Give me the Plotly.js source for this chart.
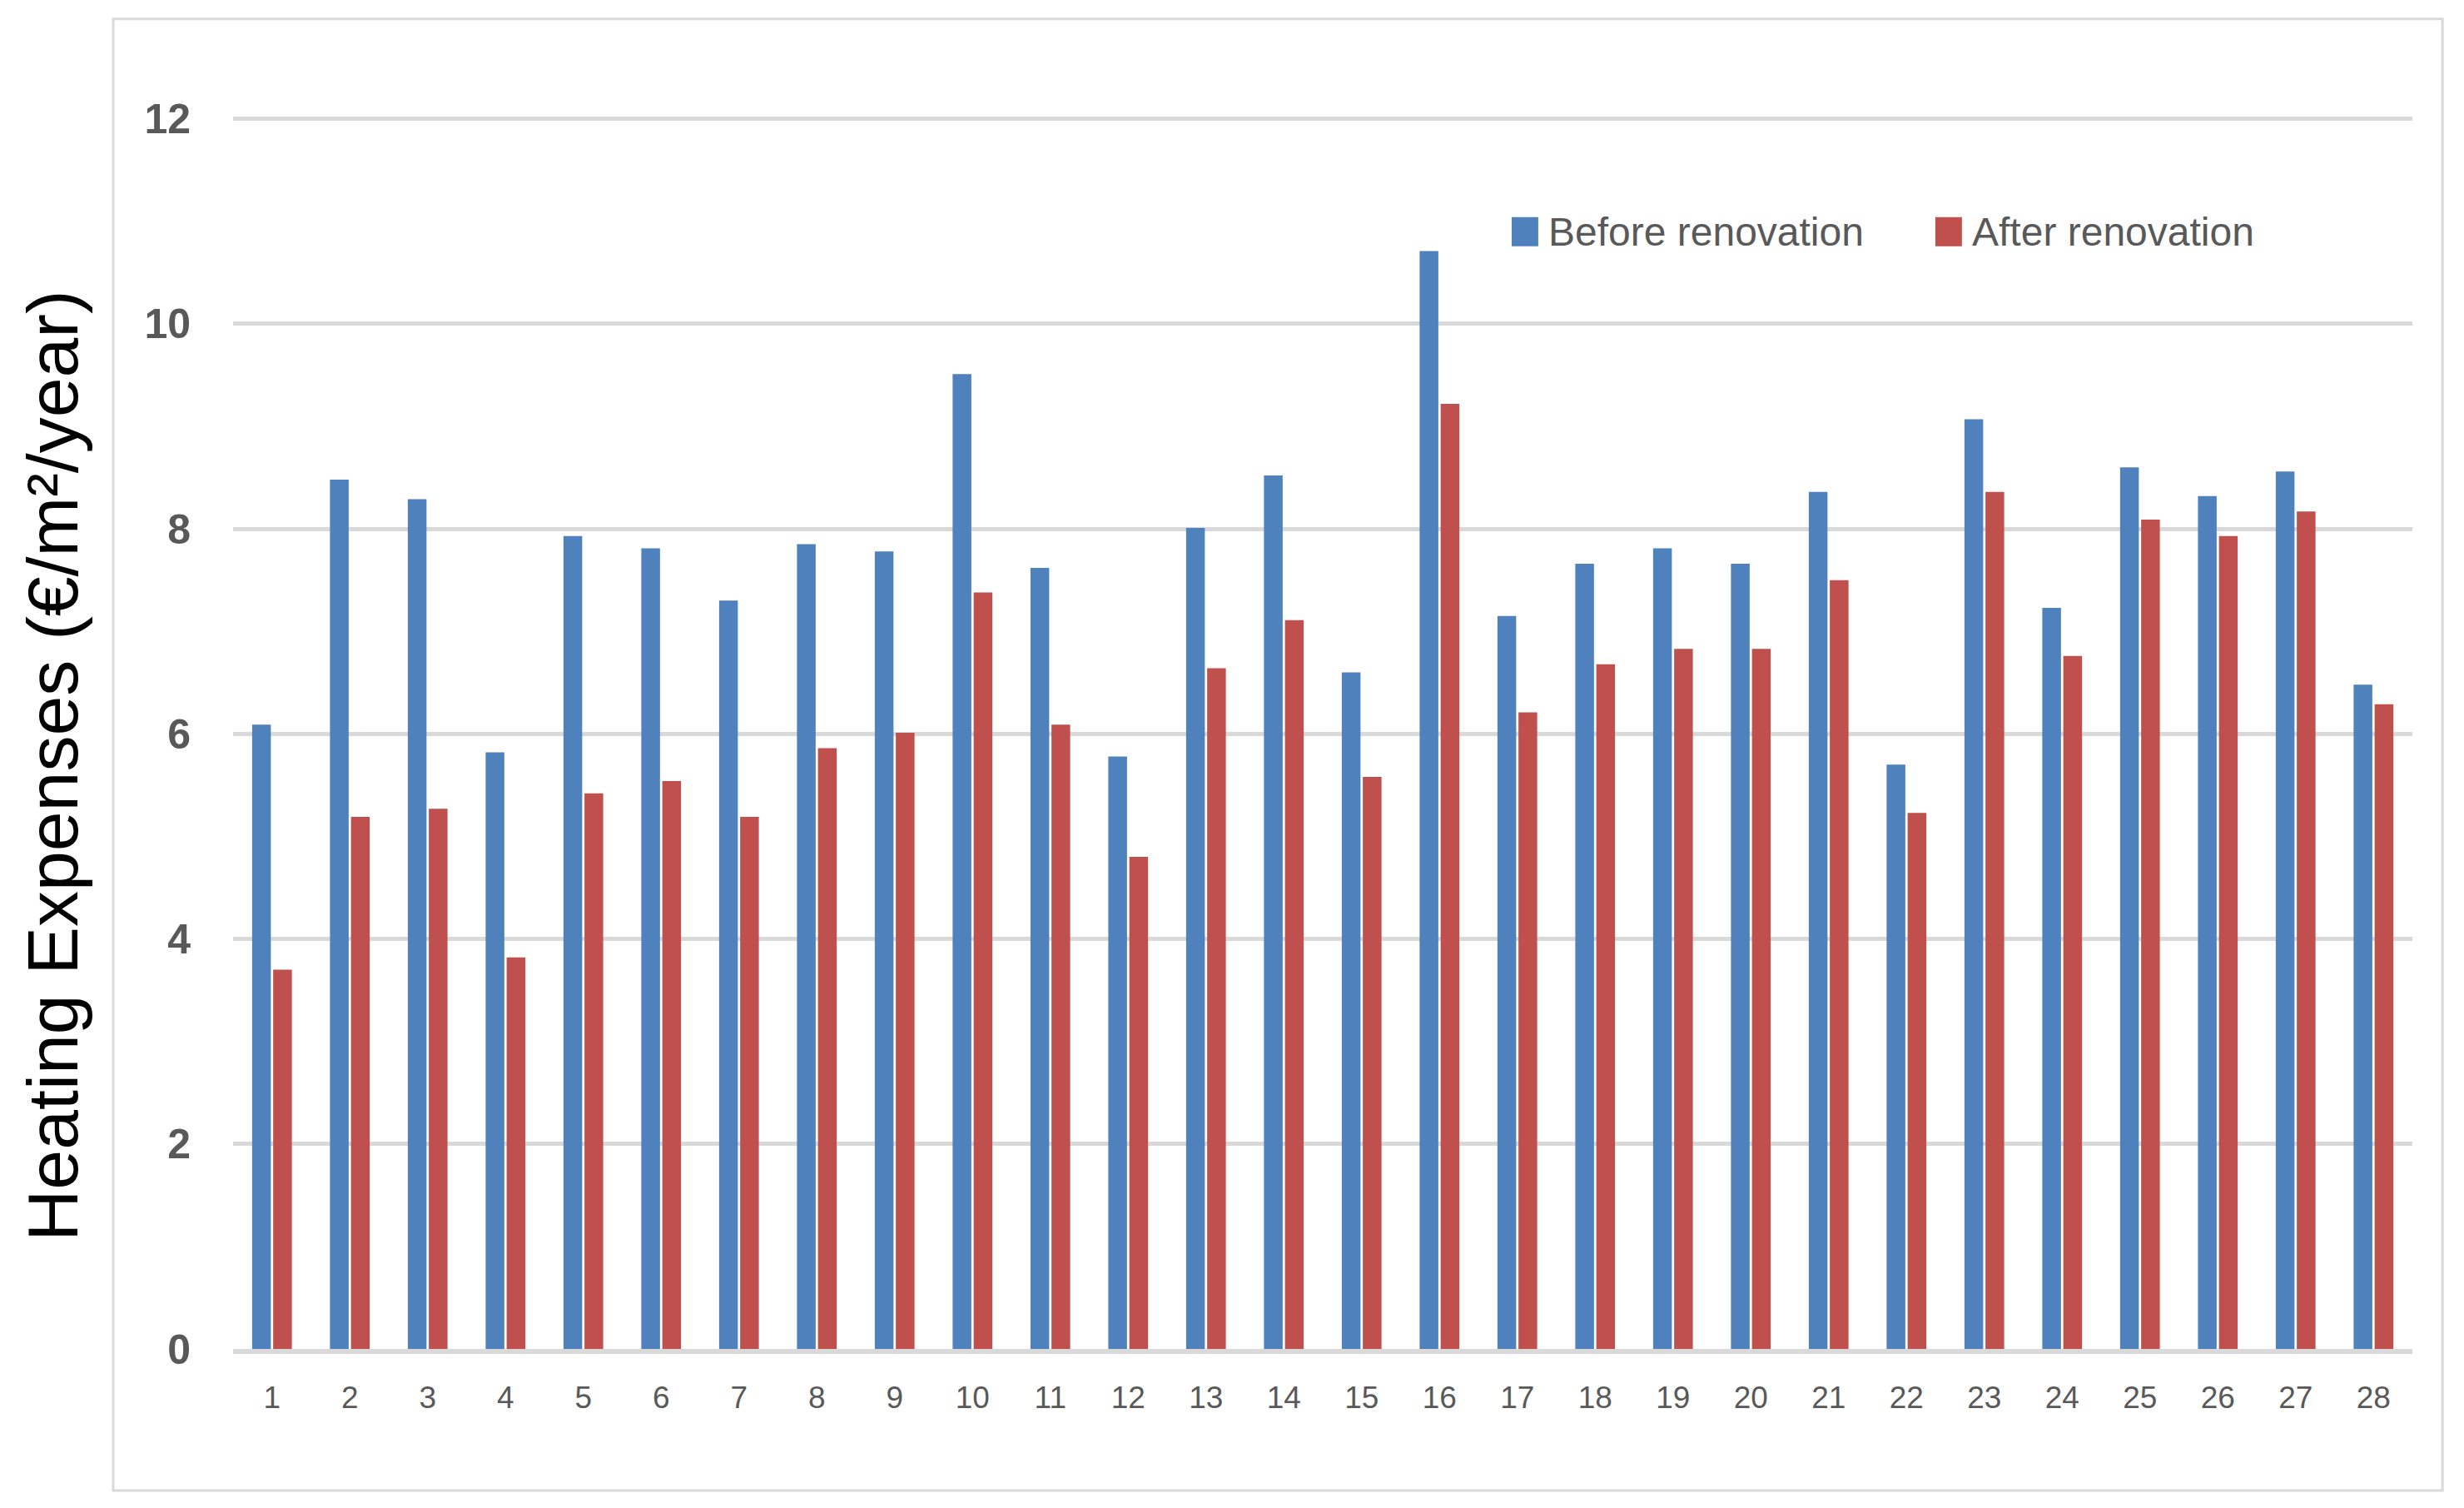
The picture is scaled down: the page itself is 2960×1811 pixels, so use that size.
<!DOCTYPE html>
<html>
<head>
<meta charset="utf-8">
<script src="https://cdn.plot.ly/plotly-3.0.1.min.js"></script>
<style>
  html, body { margin: 0; padding: 0; background: #ffffff; }
  #chart { width: 2960px; height: 1811px; }
</style>
</head>
<body>
<div id="chart"></div>
<script>
// ---- Data ----
const categories = ['1','2','3','4','5','6','7','8','9','10','11','12','13','14','15','16','17','18','19','20','21','22','23','24','25','26','27','28'];
const seriesNames = ['Before renovation', 'After renovation'];
const beforeValues = [6.09, 8.48, 8.29, 5.82, 7.93, 7.81, 7.30, 7.85, 7.78, 9.51, 7.62, 5.78, 8.01, 8.52, 6.60, 10.71, 7.15, 7.66, 7.81, 7.66, 8.36, 5.70, 9.07, 7.23, 8.60, 8.32, 8.56, 6.48];
const afterValues  = [3.70, 5.19, 5.27, 3.82, 5.42, 5.54, 5.19, 5.86, 6.01, 7.38, 6.09, 4.80, 6.64, 7.11, 5.58, 9.22, 6.21, 6.68, 6.83, 6.83, 7.50, 5.23, 8.36, 6.76, 8.09, 7.93, 8.17, 6.29];
const yTickValues = [0, 2, 4, 6, 8, 10, 12];
const yTitle = 'Heating Expenses (€/m²/year)';

// ---- Styles ----
const colors = ['#4F81BD', '#C0504D'];
const textGray = '#595959';
const gridGray = '#D9D9D9';

const traces = [
  { type: 'bar', name: seriesNames[0], x: categories, y: beforeValues, marker: { color: colors[0] }, showlegend: false },
  { type: 'bar', name: seriesNames[1], x: categories, y: afterValues,  marker: { color: colors[1] }, showlegend: false }
];

// legend swatch/label positions (paper coordinates)
const legendX = [0.5867, 0.7811];
const swatchW = 0.0122;
const legendY0 = 0.8942, legendY1 = 0.9178, legendYc = 0.9057;

const shapes = [
  // outer chart frame
  { type: 'rect', xref: 'paper', yref: 'paper', x0: -0.0550, x1: 1.0138, y0: -0.1148, y1: 1.0785,
    line: { color: gridGray, width: 3 }, fillcolor: 'rgba(0,0,0,0)', layer: 'below' }
];
const annotations = [
  { xref: 'paper', yref: 'paper', x: -0.0829, y: 0.4728, text: yTitle, textangle: -90,
    showarrow: false, xanchor: 'center', yanchor: 'middle',
    font: { family: 'Liberation Sans, Arial, sans-serif', size: 86, color: '#000000' } }
];
seriesNames.forEach((name, i) => {
  shapes.push({ type: 'rect', xref: 'paper', yref: 'paper',
    x0: legendX[i], x1: legendX[i] + swatchW, y0: legendY0, y1: legendY1,
    line: { width: 0 }, fillcolor: colors[i] });
  annotations.push({ xref: 'paper', yref: 'paper', x: legendX[i] + swatchW + 0.004, y: legendYc,
    text: name, showarrow: false, xanchor: 'left', yanchor: 'middle',
    font: { family: 'Liberation Sans, Arial, sans-serif', size: 48, color: textGray } });
});

const layout = {
  width: 2960, height: 1811,
  paper_bgcolor: '#ffffff', plot_bgcolor: '#ffffff',
  margin: { l: 280, r: 62, t: 139, b: 191, pad: 0 },
  barmode: 'group', bargap: 0.46, bargroupgap: 0.11,
  showlegend: false,
  xaxis: {
    type: 'category', showgrid: false, zeroline: false,
    showline: true, linecolor: gridGray, linewidth: 6,
    ticks: '', ticklabelstandoff: 21,
    tickfont: { family: 'Liberation Sans, Arial, sans-serif', size: 37, color: textGray }
  },
  yaxis: {
    range: [0, 12.03], tickmode: 'array', tickvals: yTickValues,
    showgrid: true, gridcolor: gridGray, gridwidth: 5,
    zeroline: false, showline: false, ticks: '', ticklabelstandoff: 50,
    tickfont: { family: 'Liberation Sans Narrow, Liberation Sans, Arial, sans-serif', size: 50, color: textGray, weight: 'bold' }
  },
  shapes: shapes,
  annotations: annotations,
  font: { family: 'Liberation Sans, Arial, sans-serif', color: textGray }
};

Plotly.newPlot('chart', traces, layout, { displayModeBar: false, responsive: false, staticPlot: true });
</script>
</body>
</html>
